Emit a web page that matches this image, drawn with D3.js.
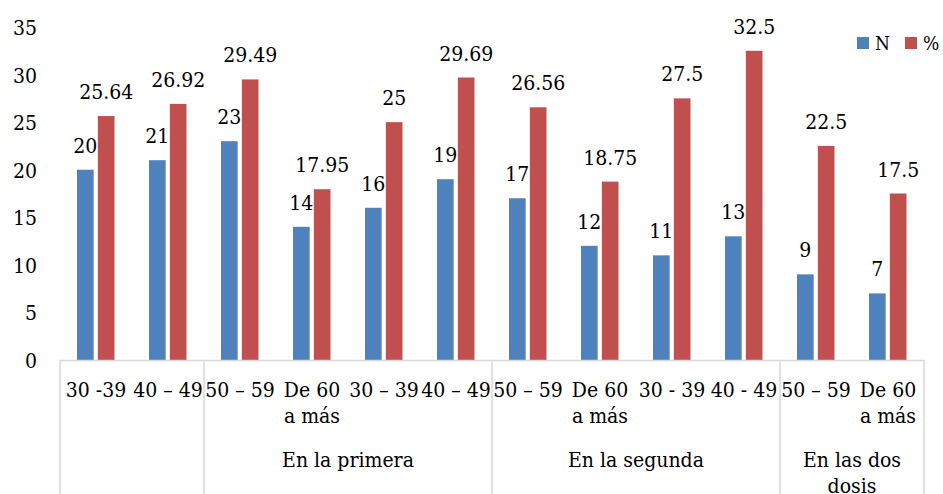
<!DOCTYPE html>
<html>
<head>
<meta charset="utf-8">
<script src="https://cdn.jsdelivr.net/npm/d3@7/dist/d3.min.js"></script>
<style>
  html, body { margin: 0; padding: 0; background: #fff; }
  svg { display: block; }
  svg text { font-family: "DejaVu Serif Condensed", "DejaVu Serif", serif; fill: #000; }
</style>
</head>
<body>
<svg id="chart" width="943" height="494"></svg>
<script>
// Age ranges (second label line used where the label wraps)
const categories = [
  ["30 -39"], ["40 – 49"],
  ["50 – 59"], ["De 60", "a más"], ["30 – 39"], ["40 – 49"],
  ["50 – 59"], ["De 60", "a más"], ["30 - 39"], ["40 - 49"],
  ["50 – 59"], ["De 60", "a más"]
];
// Group headers spanning consecutive categories: [label lines, first index, count]
const groups = [
  [[""], 0, 2],
  [["En la primera"], 2, 4],
  [["En la segunda"], 6, 4],
  [["En las dos", "dosis"], 10, 2]
];
const seriesNames = ["N", "%"];
const valuesN = [20, 21, 23, 14, 16, 19, 17, 12, 11, 13, 9, 7];
const valuesPct = [25.64, 26.92, 29.49, 17.95, 25, 29.69, 26.56, 18.75, 27.5, 32.5, 22.5, 17.5];
const pctLabels = ["25.64", "26.92", "29.49", "17.95", "25", "29.69", "26.56", "18.75", "27.5", "32.5", "22.5", "17.5"];
const yTicks = [0, 5, 10, 15, 20, 25, 30, 35];
const colors = ["#4F81BD", "#C0504D"];

const FS = 21;
const svg = d3.select("#chart");
const left = 60, right = 924, zeroY = 360, topY = 27;

const idx = d3.range(categories.length);
const x0 = d3.scaleBand().domain(idx).range([left, right]).padding(0);
const x1 = d3.scaleBand().domain(seriesNames).range([17, 54.5]).paddingInner(0.2);
const y = d3.scaleLinear().domain([0, 35]).range([zeroY, topY]);

// Y axis labels (no axis line, no gridlines)
const yAxis = d3.axisLeft(y).tickValues(yTicks).tickSize(0).tickPadding(0);
const gy = svg.append("g").attr("transform", "translate(37,0)").call(yAxis);
gy.attr("font-family", null).attr("font-size", null);
gy.select(".domain").remove();
gy.selectAll("text")
  .attr("font-size", FS)
  .attr("fill", "#000")
  .attr("dy", "0.36em");

// Bars
const rows = idx.map(i => ({ i, vals: [valuesN[i], valuesPct[i]], labels: [String(valuesN[i]), pctLabels[i]] }));
const cat = svg.append("g").selectAll("g").data(rows).join("g")
  .attr("transform", d => `translate(${x0(d.i)},0)`);

cat.selectAll("rect").data(d => d.vals.map((v, k) => ({ v, k, label: d.labels[k] })))
  .join("rect")
  .attr("x", d => x1(seriesNames[d.k]))
  .attr("width", x1.bandwidth())
  .attr("y", d => y(d.v))
  .attr("height", d => y(0) - y(d.v))
  .attr("fill", d => colors[d.k]);

// Value labels above each bar
cat.selectAll("text.val").data(d => d.vals.map((v, k) => ({ v, k, label: d.labels[k] })))
  .join("text")
  .attr("class", "val")
  .attr("x", d => x1(seriesNames[d.k]) + x1.bandwidth() / 2)
  .attr("y", d => y(d.v) - 17)
  .attr("text-anchor", "middle")
  .attr("font-size", FS)
  .text(d => d.label);

// Category axis line
svg.append("line")
  .attr("x1", left).attr("x2", right + 1)
  .attr("y1", zeroY + 0.5).attr("y2", zeroY + 0.5)
  .attr("stroke", "#d9d9d9").attr("stroke-width", 1.5);

// Group separators
const sepXs = [left].concat(groups.map(g => x0(g[1]) + x0.bandwidth() * g[2]));
svg.append("g").selectAll("line").data(sepXs).join("line")
  .attr("x1", d => d).attr("x2", d => d)
  .attr("y1", zeroY).attr("y2", 494)
  .attr("stroke", "#d9d9d9").attr("stroke-width", 1.5);

// Category labels
const catLabels = svg.append("g").selectAll("text").data(idx).join("text")
  .attr("x", i => x0(i) + x0.bandwidth() / 2)
  .attr("y", 397)
  .attr("text-anchor", "middle")
  .attr("font-size", FS);
catLabels.selectAll("tspan").data(i => categories[i]).join("tspan")
  .attr("x", function () { return d3.select(this.parentNode).attr("x"); })
  .attr("dy", (d, k) => k === 0 ? 0 : 26)
  .text(d => d);

// Group labels
const grpLabels = svg.append("g").selectAll("text").data(groups).join("text")
  .attr("x", g => x0(g[1]) + x0.bandwidth() * g[2] / 2)
  .attr("y", 467)
  .attr("text-anchor", "middle")
  .attr("font-size", FS);
grpLabels.selectAll("tspan").data(g => g[0]).join("tspan")
  .attr("x", function () { return d3.select(this.parentNode).attr("x"); })
  .attr("dy", (d, k) => k === 0 ? 0 : 26)
  .text(d => d);

// Legend
const legend = svg.append("g").selectAll("g").data(seriesNames).join("g")
  .attr("transform", (d, k) => `translate(${857 + k * 48},37)`);
legend.append("rect").attr("width", 12).attr("height", 12).attr("fill", (d, k) => colors[k]);
legend.append("text").attr("x", 18).attr("y", 13)
  .attr("font-size", 19).text(d => d);
</script>
</body>
</html>
